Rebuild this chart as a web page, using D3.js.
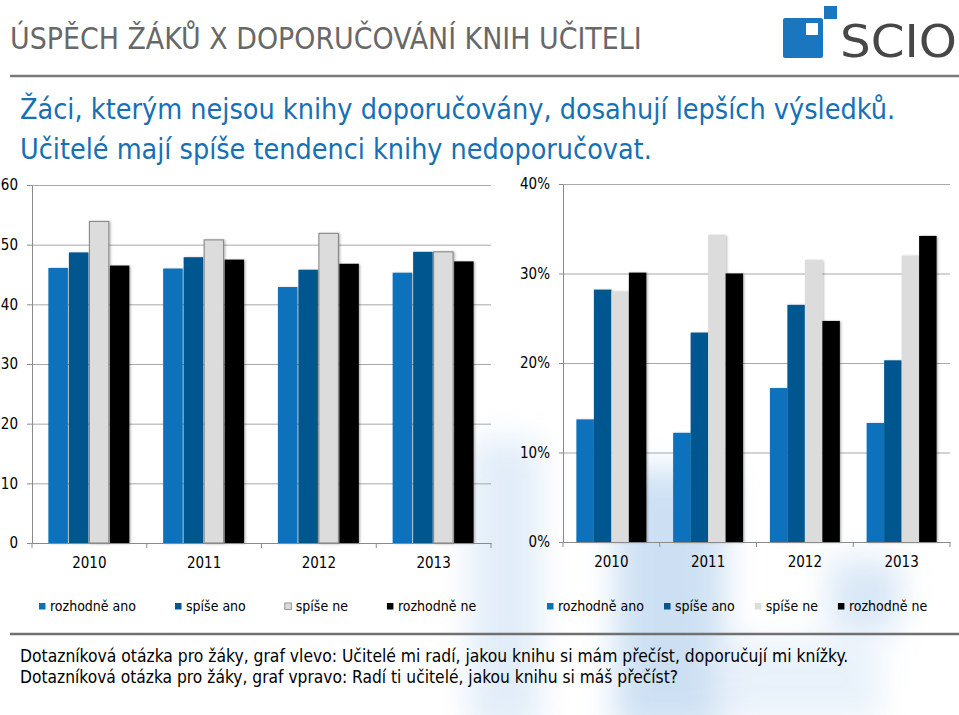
<!DOCTYPE html>
<html><head><meta charset="utf-8">
<script src="https://cdn.jsdelivr.net/npm/d3@7"></script>
<style>
html,body{margin:0;padding:0;background:#fff;}
svg{display:block;}
text{font-family:"DejaVu Sans Condensed","DejaVu Sans",sans-serif;}
</style></head><body>
<svg id="c" width="959" height="715"></svg>
<script>
// ---- data ----
const years = ["2010", "2011", "2012", "2013"];
const seriesNames = ["rozhodně ano", "spíše ano", "spíše ne", "rozhodně ne"];
const seriesColors = ["#0a72bb", "#03568e", "#dcdcdc", "#000000"];
// left chart (students' answers, score)
const leftRozhodneAno = [46.1, 46.0, 42.9, 45.3];
const leftSpiseAno    = [48.7, 47.9, 45.8, 48.8];
const leftSpiseNe     = [53.9, 50.8, 51.9, 48.8];
const leftRozhodneNe  = [46.5, 47.5, 46.8, 47.2];
const leftTicks = [0, 10, 20, 30, 40, 50, 60];
// right chart (share of students, %)
const rightRozhodneAno = [13.7, 12.2, 17.2, 13.3];
const rightSpiseAno    = [28.2, 23.4, 26.5, 20.3];
const rightSpiseNe     = [28.0, 34.3, 31.5, 32.0];
const rightRozhodneNe  = [30.1, 30.0, 24.7, 34.2];
const rightTicks = [0, 10, 20, 30, 40];

const titleText = "ÚSPĚCH ŽÁKŮ X DOPORUČOVÁNÍ KNIH UČITELI";
const subtitleLines = ["Žáci, kterým nejsou knihy doporučovány, dosahují lepších výsledků.",
                       "Učitelé mají spíše tendenci knihy nedoporučovat."];
const noteLines = ["Dotazníková otázka pro žáky, graf vlevo: Učitelé mi radí, jakou knihu si mám přečíst, doporučují mi knížky.",
                   "Dotazníková otázka pro žáky, graf vpravo: Radí ti učitelé, jakou knihu si máš přečíst?"];

const svg = d3.select("#c");
const defs = svg.append("defs");
const fb = defs.append("filter").attr("id", "blur").attr("x", "-50%").attr("y", "-50%").attr("width", "200%").attr("height", "200%");
fb.append("feGaussianBlur").attr("stdDeviation", 16);
const fs = defs.append("filter").attr("id", "shadow").attr("x", "-20%").attr("y", "-5%").attr("width", "150%").attr("height", "110%");
fs.append("feDropShadow").attr("dx", 1.2).attr("dy", 0.5).attr("stdDeviation", 1).attr("flood-color", "#000").attr("flood-opacity", 0.3);

// faint watermark in background
const wm = svg.append("g").attr("filter", "url(#blur)").attr("opacity", 0.3);
wm.append("rect").attr("x", 615).attr("y", 470).attr("width", 110).attr("height", 260).attr("fill", "#5b9bd9");
wm.append("rect").attr("x", 470).attr("y", 440).attr("width", 70).attr("height", 290).attr("fill", "#9cc3ea");
wm.append("rect").attr("x", 830).attr("y", 560).attr("width", 70).attr("height", 70).attr("fill", "#7fb0e2");
wm.append("rect").attr("x", 720).attr("y", 640).attr("width", 160).attr("height", 80).attr("fill", "#b5d3f0");

function fit(sel, w) {
  const len = sel.node().getComputedTextLength();
  const f = parseFloat(sel.attr("font-size"));
  sel.attr("font-size", (f * w / len).toFixed(2));
}

// ---- header ----
const title = svg.append("text").attr("x", 10).attr("y", 49).attr("font-size", 23).attr("fill", "#686868").text(titleText);
fit(title, 632);
svg.append("line").attr("x1", 10).attr("x2", 959).attr("y1", 76).attr("y2", 76).attr("stroke", "#7a7a7a").attr("stroke-width", 2.5);
const subEnds = [875, 632];
subtitleLines.forEach((s, i) => {
  const t = svg.append("text").attr("x", 20).attr("y", 119 + i * 40).attr("font-size", 26).attr("fill", "#1570b4").text(s);
  fit(t, subEnds[i]);
});

// logo
const logo = svg.append("g");
logo.append("rect").attr("x", 783).attr("y", 18).attr("width", 40).attr("height", 40).attr("rx", 2).attr("fill", "#1a77bf");
logo.append("rect").attr("x", 806).attr("y", 23).attr("width", 12).attr("height", 12).attr("fill", "#fff");
logo.append("rect").attr("x", 824).attr("y", 6).attr("width", 13).attr("height", 13).attr("fill", "#1a77bf");
logo.append("text").attr("x", 840).attr("y", 57).attr("font-size", 44).attr("fill", "#474747")
  .attr("font-family", "'Liberation Sans', Arial, sans-serif").attr("textLength", 117).attr("lengthAdjust", "spacingAndGlyphs").text("SCIO");

// ---- charts ----
const axisFont = "'DejaVu Sans Condensed','DejaVu Sans',sans-serif";
function drawChart(cfg) {
  const g = svg.append("g");
  const y = d3.scaleLinear().domain([cfg.ticks[0], cfg.ticks[cfg.ticks.length - 1]]).range([cfg.y0, cfg.y1]);
  const x0 = d3.scaleBand().domain(years).range([cfg.xl, cfg.xr]).padding(0);
  const step = x0.step();
  const x1 = d3.scaleBand().domain(seriesNames).range([cfg.pad, step - cfg.pad]).padding(0);

  // gridlines
  g.append("g").attr("transform", `translate(${cfg.xl},0)`)
    .call(d3.axisLeft(y).tickValues(cfg.ticks.slice(1)).tickSize(-(cfg.xr - cfg.xl)).tickFormat(""))
    .call(a => a.select(".domain").remove())
    .call(a => a.selectAll("line").attr("stroke", "#a8a8a8"));

  // bars
  const rows = years.map((yr, i) => ({ yr, vals: cfg.series.map((s, k) => ({ name: seriesNames[k], v: s[i], k })) }));
  const grp = g.selectAll("g.grp").data(rows).join("g").attr("class", "grp")
    .attr("transform", d => `translate(${x0(d.yr)},0)`);
  grp.selectAll("rect").data(d => d.vals).join("rect")
    .attr("x", d => x1(d.name))
    .attr("width", x1.bandwidth() - cfg.gap)
    .attr("y", d => y(d.v))
    .attr("height", d => y(cfg.ticks[0]) - y(d.v))
    .attr("fill", d => seriesColors[d.k])
    .attr("stroke", d => (cfg.outlineGray && d.k === 2) ? "#808080" : "none")
    .attr("stroke-width", 1)
    .attr("filter", "url(#shadow)");

  // y axis
  g.append("g").attr("transform", `translate(${cfg.xl},0)`)
    .call(d3.axisLeft(y).tickValues(cfg.ticks).tickSize(cfg.tick).tickPadding(cfg.tickPad).tickFormat(cfg.fmt))
    .call(a => a.select(".domain").attr("stroke", "#8a8a8a"))
    .call(a => a.selectAll("line").attr("stroke", "#8a8a8a"))
    .call(a => a.selectAll("text").attr("font-size", 15).attr("fill", "#000").attr("font-family", axisFont));

  // x axis
  const xa = g.append("g").attr("transform", `translate(0,${cfg.y0})`);
  xa.call(d3.axisBottom(x0).tickSize(0).tickPadding(14.5))
    .call(a => a.select(".domain").attr("stroke", "#8a8a8a"))
    .call(a => a.selectAll("text").attr("font-size", 15).attr("fill", "#000").attr("font-family", axisFont));
  const bounds = years.map(d => x0(d)).concat([cfg.xr]);
  xa.selectAll("line.bt").data(bounds).join("line").attr("class", "bt")
    .attr("x1", d => d).attr("x2", d => d).attr("y1", 0).attr("y2", 5).attr("stroke", "#8a8a8a");

  // legend
  const lg = svg.append("g");
  let cx = cfg.legX;
  seriesNames.forEach((n, k) => {
    lg.append("rect").attr("x", cx).attr("y", 603).attr("width", 6.5).attr("height", 6.5)
      .attr("fill", seriesColors[k])
      .attr("stroke", (cfg.outlineGray && k === 2) ? "#808080" : "none").attr("stroke-width", 0.8);
    const t = lg.append("text").attr("x", cx + 11).attr("y", 611).attr("font-size", 14).attr("fill", "#000").text(n);
    cx += 11 + t.node().getComputedTextLength() + cfg.legGap;
  });
}

drawChart({
  series: [leftRozhodneAno, leftSpiseAno, leftSpiseNe, leftRozhodneNe],
  ticks: leftTicks, y0: 543, y1: 185, xl: 32, xr: 491, pad: 16.4, gap: 1,
  tick: 5, tickPad: 9, fmt: d => d, outlineGray: true, legX: 39, legGap: 39
});
drawChart({
  series: [rightRozhodneAno, rightSpiseAno, rightSpiseNe, rightRozhodneNe],
  ticks: rightTicks, y0: 542, y1: 184, xl: 563, xr: 950, pad: 13.4, gap: 0,
  tick: 4, tickPad: 9, fmt: d => d + "%", outlineGray: false, legX: 547, legGap: 20
});

// ---- footer ----
svg.append("line").attr("x1", 10).attr("x2", 959).attr("y1", 634).attr("y2", 634).attr("stroke", "#707070").attr("stroke-width", 2.5);
const noteEnds = [828, 658];
noteLines.forEach((s, i) => {
  const t = svg.append("text").attr("x", 20).attr("y", 662 + i * 21).attr("font-size", 16).attr("fill", "#000").text(s);
  fit(t, noteEnds[i]);
});
</script>
</body></html>
